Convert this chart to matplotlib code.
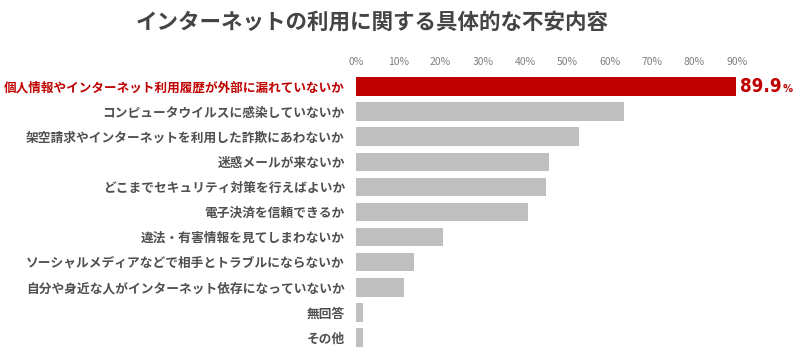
import matplotlib.pyplot as plt

plt.rcParams['font.family'] = ['Noto Sans CJK JP', 'DejaVu Sans']

# データ
categories = [
    "個人情報やインターネット利用履歴が外部に漏れていないか",
    "コンピュータウイルスに感染していないか",
    "架空請求やインターネットを利用した詐欺にあわないか",
    "迷惑メールが来ないか",
    "どこまでセキュリティ対策を行えばよいか",
    "電子決済を信頼できるか",
    "違法・有害情報を見てしまわないか",
    "ソーシャルメディアなどで相手とトラブルにならないか",
    "自分や身近な人がインターネット依存になっていないか",
    "無回答",
    "その他",
]
values = [89.9, 63.3, 52.7, 45.6, 44.9, 40.7, 20.5, 13.7, 11.4, 1.7, 1.7]
tick_values = [0, 10, 20, 30, 40, 50, 60, 70, 80, 90]
tick_labels = [f"{v}%" for v in tick_values]

RED = '#bf0000'
GRAY = '#bfbfbf'
TEXT = '#444444'

fig = plt.figure(figsize=(8.0, 3.63), dpi=100)
ax = fig.add_axes([0.445, 0.036, 0.555, 0.76])

colors = [RED] + [GRAY] * (len(values) - 1)
ypos = list(range(len(values)))
ax.barh(ypos, values, height=0.74, color=colors)

ax.set_xlim(0, 105)
ax.set_ylim(len(values) - 0.5, -0.5)

# 目盛り（上側）
ax.xaxis.tick_top()
ax.set_xticks(tick_values)
ax.set_xticklabels(tick_labels, fontsize=7.5, color='#808080')
ax.tick_params(axis='x', length=0, pad=5)

ax.set_yticks(ypos)
ax.set_yticklabels(categories, fontsize=9.15, color='#505050', fontweight='bold')
ax.tick_params(axis='y', length=0, pad=8)
lbls = ax.get_yticklabels()
lbls[0].set_color(RED)
lbls[0].set_fontsize(9.05)

for s in ax.spines.values():
    s.set_visible(False)

# 値ラベル
t = ax.annotate(f"{values[0]}", xy=(values[0], 0), xytext=(3, 0),
                textcoords='offset points', ha='left', va='center',
                fontsize=13.5, fontweight='bold', color=RED,
                family='DejaVu Sans', fontstretch='condensed')
ax.annotate('%', xy=(1, 0.1), xycoords=t, xytext=(0.3, 0),
            textcoords='offset points', ha='left', va='bottom',
            fontsize=8, fontweight='bold', color=RED,
            family='DejaVu Sans', fontstretch='condensed')

fig.text(0.465, 0.94, "インターネットの利用に関する具体的な不安内容",
         ha='center', va='center', fontsize=15.5, fontweight='bold', color=TEXT)

fig.savefig('out.png', dpi=100)
